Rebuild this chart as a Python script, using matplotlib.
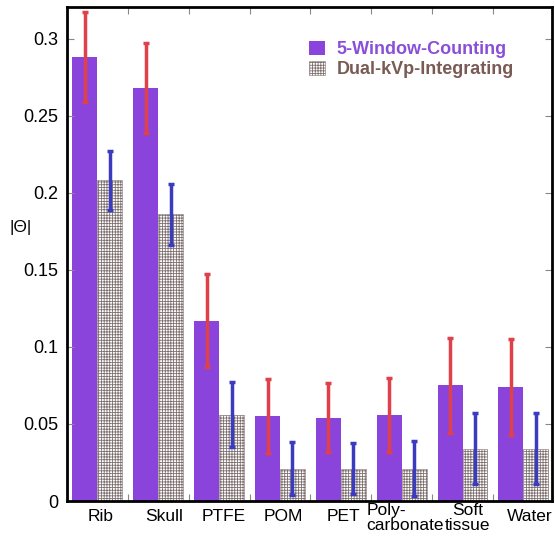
import numpy as np
import matplotlib
matplotlib.use('Agg')
import matplotlib.pyplot as plt

plt.rcParams['font.family'] = ['Liberation Sans', 'DejaVu Sans']
plt.rcParams['hatch.linewidth'] = 0.6

materials = ['Rib', 'Skull', 'PTFE', 'POM', 'PET', 'Poly-\ncarbonate', 'Soft\ntissue', 'Water']

# |Theta| per material, with error half-widths
counting = [0.288, 0.268, 0.117, 0.055, 0.054, 0.056, 0.075, 0.074]
counting_err = [0.029, 0.029, 0.030, 0.024, 0.0225, 0.024, 0.0306, 0.031]
integrating = [0.208, 0.186, 0.056, 0.021, 0.021, 0.021, 0.034, 0.034]
integrating_err = [0.019, 0.020, 0.021, 0.017, 0.0165, 0.018, 0.023, 0.023]

x = np.arange(len(materials))
w = 0.41

fig = plt.figure(figsize=(5.55, 5.4), dpi=100)
ax = fig.add_axes([0.1207, 0.0722, 0.8739, 0.9148])

b1 = ax.bar(x - w / 2, counting, w, color='#8a44dc', edgecolor='none')
b2 = ax.bar(x + w / 2, integrating, w, color='white', edgecolor='#7f7070',
            linewidth=0.4, hatch='++++++')
ax.errorbar(x - w / 2, counting, yerr=counting_err, fmt='none', ecolor='#e0404a',
            elinewidth=2.5, capsize=2.5, capthick=2.5)
ax.errorbar(x + w / 2, integrating, yerr=integrating_err, fmt='none', ecolor='#3b3bc0',
            elinewidth=2.5, capsize=2.5, capthick=2.5)

ax.set_xlim(-0.5, 7.47)
ax.set_ylim(0, 0.3205)
ax.set_yticks([0, 0.05, 0.1, 0.15, 0.2, 0.25, 0.3])
ax.set_yticklabels(['0', '0.05', '0.1', '0.15', '0.2', '0.25', '0.3'])
ax.set_xticks(np.arange(7) + 0.5)
ax.set_xticklabels([])
ax.tick_params(axis='both', direction='in', top=True, right=True, length=5,
               width=0.8, labelsize=13, color='#888888')
ax.tick_params(axis='y', pad=6)
for s in ax.spines.values():
    s.set_linewidth(2)

# category labels under the axis
label_x = [0.05, 0.1, 0.07, 0.05, 0.04, 0.06, 0.08, 0.11]
for xi, dx, name in zip(x, label_x, materials):
    if '\n' in name:
        ax.text(xi + dx, -0.0012, name, ha='center', va='top', fontsize=12.5,
                multialignment='left' if name.startswith('Poly') else 'center',
                linespacing=1.05, clip_on=False)
    else:
        ax.text(xi + dx, -0.0055, name, ha='center', va='top', fontsize=12.5, clip_on=False)

fig.text(0.038, 0.578, '|Θ|', fontsize=12.5, ha='center', va='center')

leg = ax.legend([b1, b2], ['5-Window-Counting', 'Dual-kVp-Integrating'],
                loc='upper left', bbox_to_anchor=(0.5, 0.932), frameon=False,
                borderpad=0, borderaxespad=0, handlelength=0.85, handleheight=0.85,
                handletextpad=0.65, labelspacing=0.15,
                prop={'size': 13, 'weight': 'bold'},
                labelcolor=['#8a4fd8', '#7a5a55'])

fig.savefig('out.png', dpi=100)
